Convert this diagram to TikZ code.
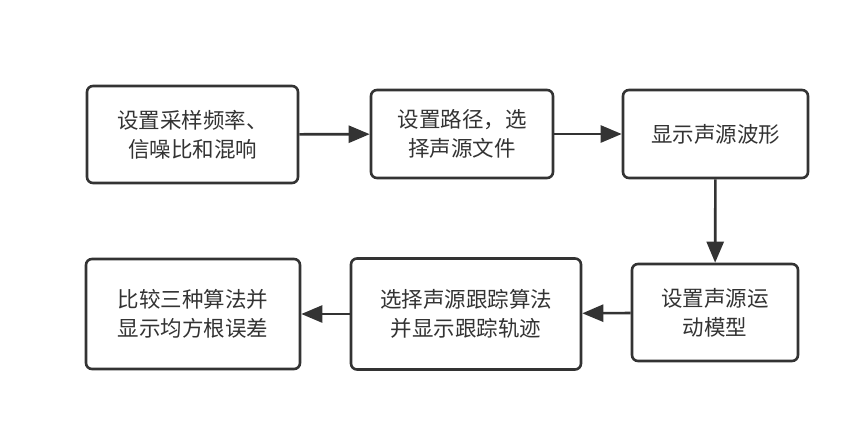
\documentclass[tikz,border=0pt]{standalone}
\usepackage{fontspec}
\setmainfont{Noto Sans CJK SC}
\usepackage{tikz}
\usetikzlibrary{arrows.meta,positioning}
\definecolor{linegray}{HTML}{333333}

\begin{document}
\begin{tikzpicture}[x=1pt,y=-1pt]
\tikzset{block/.style={draw=linegray,line width=2.6pt,rounded corners=6pt,
align=center,font=\fontsize{21.5}{29}\selectfont,text=linegray,inner sep=0pt}}
\tikzset{flow/.style={draw=linegray,line width=2.6pt,
-{Triangle[length=21pt,width=17pt]}}}
\useasboundingbox (0,0) rectangle (865,424);
\node[block,minimum width=211pt,minimum height=97pt] (rate) at (192.5,134.5)
{设置采样频率、\\信噪比和混响};
\node[block,minimum width=182pt,minimum height=88pt] (path) at (462,134)
{设置路径，选\\择声源文件};
\node[block,minimum width=185pt,minimum height=88pt] (wave) at (715.5,134)
{显示声源波形};
\node[block,minimum width=166pt,minimum height=97pt] (motion) at (715,312.5)
{设置声源运\\动模型};
\node[block,minimum width=230pt,minimum height=111pt] (track) at (466,314)
{选择声源跟踪算法\\并显示跟踪轨迹};
\node[block,minimum width=214pt,minimum height=110pt] (rmse) at (193,314)
{比较三种算法并\\显示均方根误差};
\draw[flow] (rate) -- (path);
\draw[flow] (path) -- (wave);
\draw[flow] (wave) -- (motion);
\draw[flow] (motion) -- (track);
\draw[flow] (track) -- (rmse);
\end{tikzpicture}
\end{document}
